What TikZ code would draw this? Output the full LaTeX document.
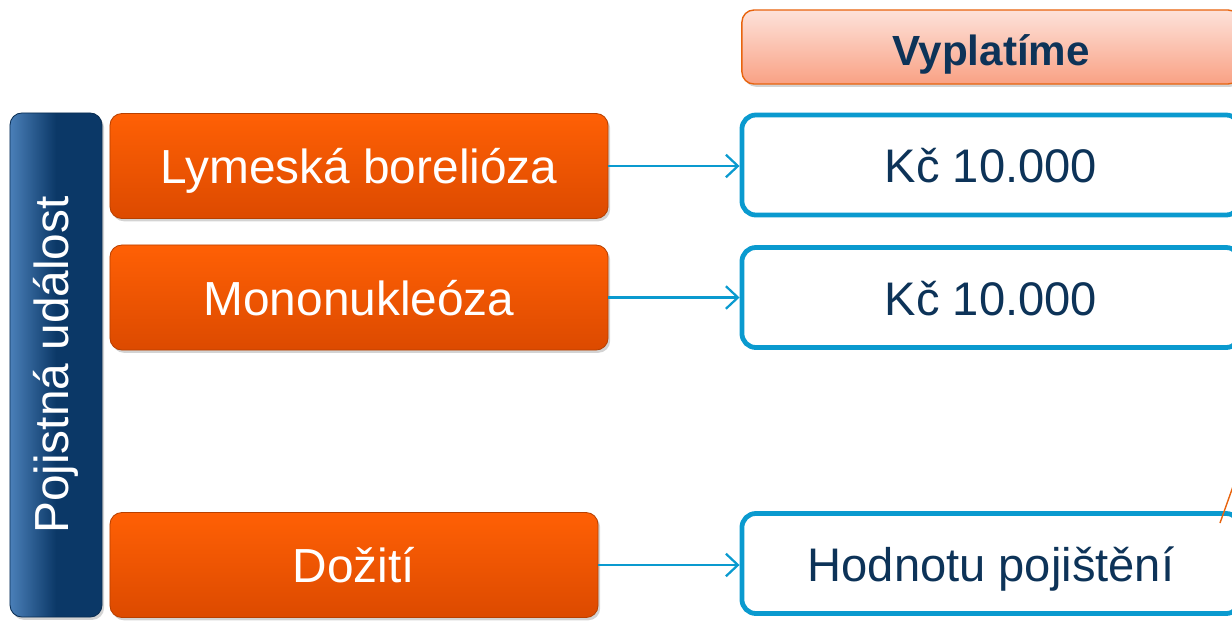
\documentclass[tikz,border=0pt]{standalone}
\usepackage{fontspec}
\setmainfont{Liberation Sans}
\usetikzlibrary{positioning,shadows,arrows.meta}
\definecolor{navy}{HTML}{0D3358}
\definecolor{barblue}{HTML}{0B3867}
\definecolor{barlight}{HTML}{4A7FB8}
\definecolor{cyanline}{HTML}{0A9ACF}
\definecolor{orangetop}{HTML}{FF6005}
\definecolor{orangebot}{HTML}{DC4A00}
\definecolor{orangeedge}{HTML}{B84000}
\definecolor{pinktop}{HTML}{FDE2DA}
\definecolor{pinkbot}{HTML}{F9A184}
\definecolor{pinkedge}{HTML}{E8640E}
\tikzset{
>={Straight Barb[length=8.5pt,width=16pt]},
my shadow/.style={drop shadow={opacity=0.35,shadow xshift=1.5pt,shadow yshift=-2pt}},
event/.style={rectangle,rounded corners=3mm,my shadow,draw=orangeedge,line width=0.6pt,
  top color=orangetop,bottom color=orangebot,text=white,font=\fontsize{34}{36}\selectfont,
  minimum width=12.45cm,minimum height=2.625cm,inner sep=0pt,text height=25pt,text depth=0pt},
payout/.style={rectangle,rounded corners=3.5mm,draw=cyanline,line width=3.4pt,fill=white,
  text=navy,font=\fontsize{33.5}{36}\selectfont,
  minimum width=12.45cm,minimum height=2.5cm,inner sep=0pt,text height=25pt,text depth=0pt},
header/.style={rectangle,rounded corners=3mm,my shadow,draw=pinkedge,line width=1pt,
  top color=pinktop,bottom color=pinkbot,text=navy,font=\fontsize{30}{32}\selectfont\bfseries,
  minimum width=12.45cm,minimum height=1.85cm,inner sep=0pt,text height=25.6pt,text depth=0pt},
sidebar/.style={rectangle,rounded corners=3mm,my shadow,draw=barblue!80!black,line width=0.6pt,
  left color=barlight,right color=barblue,middle color=barblue,text=white,
  font=\fontsize{34}{36}\selectfont,rotate=90,
  minimum width=12.6cm,minimum height=2.3cm,inner sep=0pt},
link/.style={->,draw=cyanline,line width=1.6pt}
}
\begin{document}
\begin{tikzpicture}[x=0.025cm,y=-0.025cm]
\useasboundingbox (0,0) rectangle (1232,620);
\clip (0,0) rectangle (1232,620);
% left column
\node[sidebar] (bar) at (56,365) {Pojistná událost};
\node[event] (lyme) at (359,166) {Lymeská borelióza};
\node[event] (mono) at (359,297.5) {Mononukleóza};
\node[event,minimum width=12.2cm] (doz) at (354,565) {Dožití};
% right column
\node[header] (head) at (991,47) {Vyplatíme};
\node[payout] (pay1) at (991,165) {Kč 10.000};
\node[payout] (pay2) at (991,297.5) {Kč 10.000};
\node[payout] (pay3) at (991,563.5) {Hodnotu pojištění};
% arrows
\draw[link] (lyme) -- (pay1.west|-lyme);
\draw[link] (mono) -- (pay2.west|-mono);
\draw[link] (doz.east) -- (pay3.west|-doz.east);
\coordinate (cut) at (1236,478);
\coordinate (tip) at (1220,523);
\draw[pinkedge,line width=1pt] (cut) -- (tip);
\end{tikzpicture}
\end{document}
